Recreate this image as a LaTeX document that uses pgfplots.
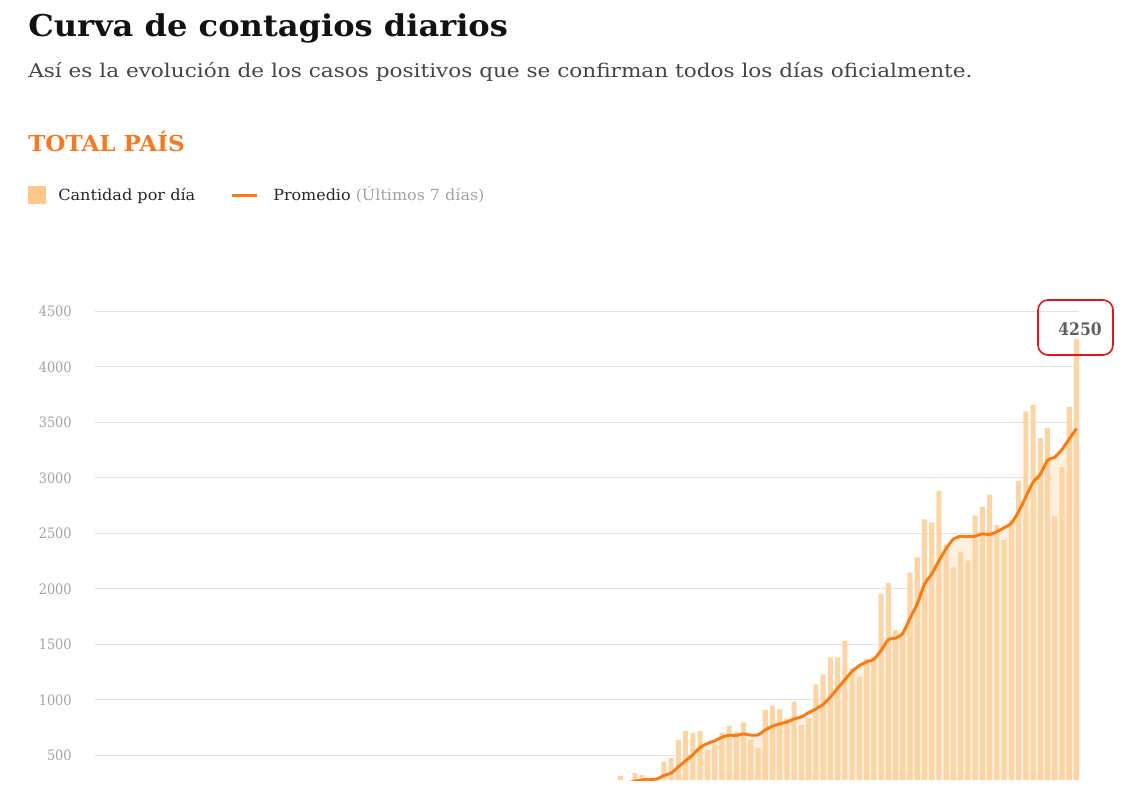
\documentclass[border=0pt]{standalone}
\usepackage{fontspec}
\setmainfont{DejaVu Serif Condensed}
\newfontfamily\widefont{DejaVu Serif}
\usepackage{pgfplots}
\usepackage{pgfplotstable}
\pgfplotsset{compat=1.18}
\definecolor{barc}{HTML}{FDD4A4}
\definecolor{swatchc}{HTML}{FDC98B}
\definecolor{linec}{HTML}{F97B12}
\definecolor{fillc}{HTML}{FEEFDF}
\definecolor{orangeT}{HTML}{F57A1F}
\definecolor{gridc}{HTML}{E2E2E2}
\definecolor{tickc}{HTML}{A3A3A3}
\definecolor{subc}{HTML}{454545}
\definecolor{annc}{HTML}{5E5E5E}
\definecolor{redbox}{HTML}{E3151B}

% daily cases (days counted from the start of the series; smaller values are below the visible range)
\pgfplotstableread{
x y
72 315
74 340
75 324
77 290
78 444
79 475
80 640
81 721
82 706
83 721
84 550
85 601
86 706
87 769
88 715
89 799
90 640
91 571
92 910
93 946
94 916
95 835
96 985
97 775
98 835
99 1141
100 1231
101 1384
102 1384
103 1531
104 1290
105 1210
106 1370
107 1390
108 1955
109 2055
110 1631
111 1600
112 2148
113 2285
114 2628
115 2601
116 2885
117 2400
118 2195
119 2332
120 2255
121 2661
122 2742
123 2850
124 2580
125 2441
126 2620
127 2975
128 3600
129 3658
130 3360
131 3450
132 2655
133 3099
134 3640
135 4250
}\bars

% 7-day average
\pgfplotstableread{
x y
73 249
74 269
75 280
76 284
77 288
78 319
79 342
80 398
81 452
82 507
83 571
84 608
85 631
86 664
87 682
88 681
89 694
90 683
91 686
92 730
93 764
94 785
95 802
96 829
97 848
98 886
99 919
100 960
101 1027
102 1105
103 1183
104 1257
105 1310
106 1343
107 1366
108 1447
109 1543
110 1557
111 1602
112 1736
113 1866
114 2043
115 2135
116 2254
117 2364
118 2449
119 2475
120 2471
121 2476
122 2496
123 2491
124 2516
125 2552
126 2593
127 2696
128 2830
129 2961
130 3033
131 3158
132 3188
133 3257
134 3352
135 3445
}\avg

\begin{document}
\begin{tikzpicture}
\path[use as bounding box] (0,0) rectangle (845.25pt,600pt);

\begin{axis}[
  at={(71.25pt,15pt)}, anchor=south west,
  scale only axis, width=738pt, height=351.375pt,
  xmin=-0.6, xmax=135.35, ymin=279, ymax=4500,
  axis line style={draw=none},
  xtick=\empty,
  ytick={500,1000,...,4500},
  major tick length=0pt,
  ymajorgrids, grid style={gridc, line width=0.75pt},
  yticklabel style={font=\fontsize{10.8pt}{10.8pt}\selectfont, text=tickc, anchor=east, inner sep=0pt, xshift=-17.25pt},
  /pgf/number format/assume math mode=true,
  /pgf/number format/1000 sep={},
]
\addplot[draw=none, fill=fillc, smooth, tension=0.4] table[x=x,y=y] {\avg} \closedcycle;
\addplot[ybar, bar width=0.7, fill=barc, draw=none] table[x=x,y=y] {\bars};
\addplot[linec, line width=2.2pt, smooth, tension=0.4] table[x=x,y=y] {\avg};
\end{axis}

\begin{scope}[x=0.75pt, y=-0.75pt, shift={(0pt,600pt)}]
  % title
  \node[anchor=base west, inner sep=0, text=black!93] at (28,37)
    {\scalebox{1.07}[1]{\widefont\fontsize{22.5pt}{22.5pt}\selectfont\bfseries Curva de contagios diarios}};
  \node[anchor=base west, inner sep=0, text=subc] at (28,77.5)
    {\scalebox{1.14}[1]{\widefont\fontsize{14.2pt}{14.2pt}\selectfont Así es la evolución de los casos positivos que se confirman todos los días oficialmente.}};
  \node[anchor=base west, inner sep=0, text=orangeT] at (28,151.5)
    {\scalebox{1.05}[1]{\widefont\fontsize{16.5pt}{16.5pt}\selectfont\bfseries TOTAL PAÍS}};
  % legend
  \fill[swatchc] (28,186) rectangle (46,204);
  \node[anchor=base west, inner sep=0, text=black!85] at (58,201)
    {\scalebox{1.05}[1]{\widefont\fontsize{11.5pt}{11.5pt}\selectfont Cantidad por día}};
  \draw[linec, line width=2.3pt] (232,195.5) -- (257,195.5);
  \node[anchor=base west, inner sep=0, text=black!85] at (273,201)
    {\scalebox{1.04}[1]{\widefont\fontsize{11.5pt}{11.5pt}\selectfont Promedio \textcolor{tickc}{(Últimos 7 días)}}};
  % annotation
  \draw[redbox, line width=1.2pt, rounded corners=7.5pt] (1038,300) rectangle (1113,355);
  \node[anchor=base, inner sep=0, text=annc] at (1080,336)
    {\fontsize{13pt}{13pt}\selectfont\bfseries 4250};
\end{scope}
\end{tikzpicture}
\end{document}
